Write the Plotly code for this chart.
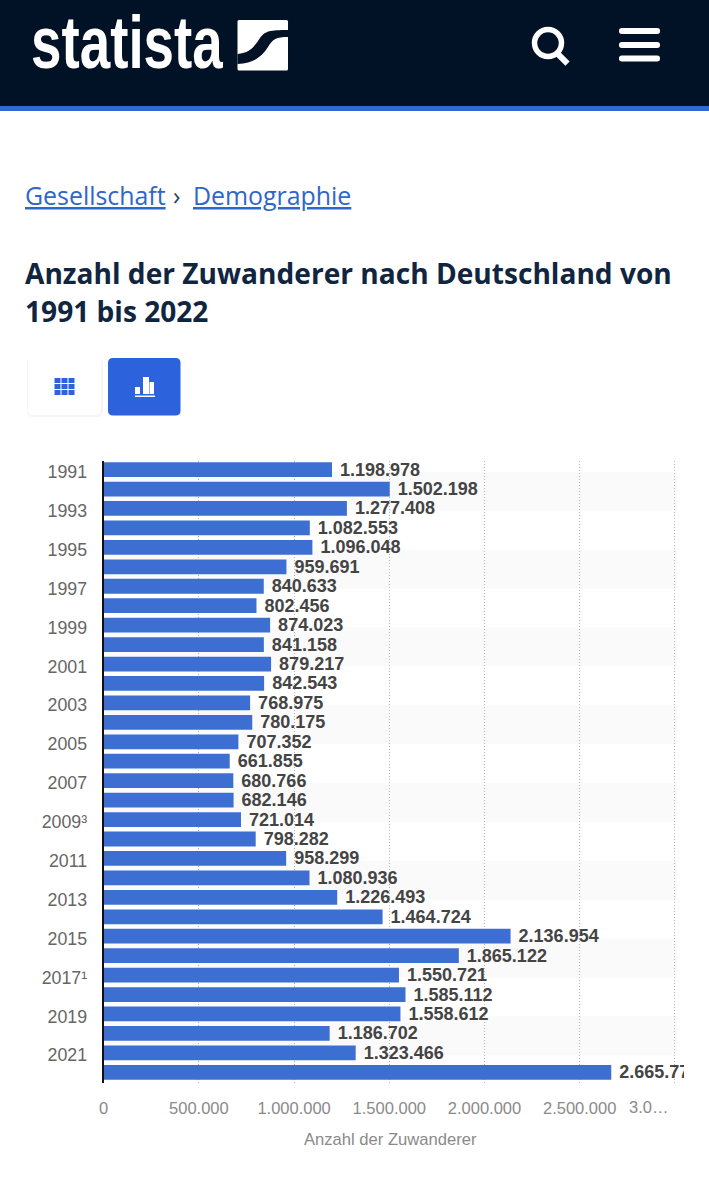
import plotly.graph_objects as go

W, H = 709, 1200
categories = [str(y) for y in range(1991, 2023)]
categories[18] = "2009³"
categories[26] = "2017¹"
values = [1198978, 1502198, 1277408, 1082553, 1096048, 959691, 840633, 802456,
          874023, 841158, 879217, 842543, 768975, 780175, 707352, 661855,
          680766, 682146, 721014, 798282, 958299, 1080936, 1226493, 1464724,
          2136954, 1865122, 1550721, 1585112, 1558612, 1186702, 1323466, 2665772]
labels = ["\u00a0" + f"{v:,}".replace(",", ".") for v in values]
tick_values = [0, 500000, 1000000, 1500000, 2000000, 2500000, 3000000]
tick_labels = ["0", "500.000", "1.000.000", "1.500.000", "2.000.000", "2.500.000", ""]
BLUE = "#3c6fd1"
NAVY = "#021226"


def X(p):
    return p / W


def Y(p):
    return 1 - p / H


def P(a, b):
    return f"{X(a):.5f},{Y(b):.5f}"


def rect(x0, y0, x1, y1, color, layer="above", line=None):
    return dict(type="rect", xref="paper", yref="paper", x0=X(x0), x1=X(x1), y0=Y(y0), y1=Y(y1),
                fillcolor=color, line=line or dict(width=0), layer=layer)


def svg(d, color=None, stroke=None, sw=0):
    return dict(type="path", xref="paper", yref="paper", path=d,
                fillcolor=color or "rgba(0,0,0,0)",
                line=dict(width=sw, color=stroke or "rgba(0,0,0,0)"), layer="above")


def rrect(x0, y0, x1, y1, r, color, line=None):
    d = (f"M{P(x0 + r, y0)} L{P(x1 - r, y0)} Q{P(x1, y0)} {P(x1, y0 + r)} "
         f"L{P(x1, y1 - r)} Q{P(x1, y1)} {P(x1 - r, y1)} L{P(x0 + r, y1)} "
         f"Q{P(x0, y1)} {P(x0, y1 - r)} L{P(x0, y0 + r)} Q{P(x0, y0)} {P(x0 + r, y0)} Z")
    s = svg(d, color)
    if line:
        s["line"] = line
    return s


shapes = [rect(0, 0, W, 106, NAVY), rect(0, 106, W, 111, "#3268d6")]
# logo mark: white square crossed by a navy swoosh
shapes.append(rrect(237.5, 20, 288, 70.5, 1.5, "#ffffff"))
shapes.append(svg(
    f"M{P(237.5, 54)} C{P(250, 53)} {P(254, 47)} {P(260, 38)} C{P(265, 31)} {P(270, 30)} {P(288, 30)} "
    f"L{P(288, 37)} C{P(276, 37)} {P(273, 39)} {P(268, 47)} C{P(262, 56)} {P(255, 63)} {P(237.5, 64)} Z",
    NAVY))
# search icon
shapes += [dict(type="circle", xref="paper", yref="paper", x0=X(534.5), x1=X(561.5), y0=Y(29.5), y1=Y(56.5),
                line=dict(color="white", width=5.5), fillcolor="rgba(0,0,0,0)", layer="above"),
           svg(f"M{P(557, 53)} L{P(567.5, 63.5)}", stroke="white", sw=6)]
# menu icon
for yy in (31, 45, 58.5):
    shapes.append(rrect(619, yy - 3, 660, yy + 3, 2.8, "#ffffff"))
# buttons
shapes += [rrect(27, 358, 103, 417, 6, "#f4f5f6"),
           rrect(28, 357, 101, 415, 5, "#ffffff"),
           rrect(108, 358, 180.5, 415.5, 5, "#2c62dc")]
for r in range(3):
    for c in range(3):
        shapes.append(rect(54.5 + c * 7, 378 + r * 6, 60.5 + c * 7, 383 + r * 6, "#2c62dc"))
shapes += [rect(135, 387, 140, 394, "#ffffff"), rect(143, 377, 149, 394, "#ffffff"),
           rect(149.5, 382, 154, 394, "#ffffff"), rect(135, 395.5, 155, 397, "#ffffff")]
# alternating plot bands (below the traces)
for i in range(0, 32, 4):
    shapes.append(dict(type="rect", xref="paper", yref="y", x0=X(104), x1=X(677),
                       y0=i + 0.12, y1=min(i + 2.12, 31.55), fillcolor="#fafafa",
                       line=dict(width=0), layer="below"))

annotations = [
    dict(text="<b>statista</b>", x=X(28.5), y=Y(42.5), xanchor="left", yanchor="middle", showarrow=False,
         font=dict(family="Liberation Sans", size=74, color="white")),
    dict(text="<u>Gesellschaft</u>", x=X(23), y=Y(195), xanchor="left", yanchor="middle", showarrow=False,
         font=dict(family="Open Sans", size=24.9, color="#2f66c9")),
    dict(text="›", x=X(171), y=Y(195), xanchor="left", yanchor="middle", showarrow=False,
         font=dict(family="Open Sans", size=24.9, color="#33415c")),
    dict(text="<u>Demographie</u>", x=X(190.5), y=Y(195), xanchor="left", yanchor="middle", showarrow=False,
         font=dict(family="Open Sans", size=24.9, color="#2f66c9")),
    dict(text="<b>Anzahl der Zuwanderer nach Deutschland von</b>", x=X(23), y=Y(273), xanchor="left",
         yanchor="middle", showarrow=False, font=dict(family="Open Sans", size=28.1, color="#0f2540")),
    dict(text="<b>1991 bis 2022</b>", x=X(23), y=Y(311), xanchor="left", yanchor="middle",
         showarrow=False, font=dict(family="Open Sans", size=28.1, color="#0f2540")),
    dict(text="3.0…", x=X(648), y=Y(1107), xanchor="center", yanchor="middle", showarrow=False,
         font=dict(family="Liberation Sans", size=16.5, color="#8a8a8a")),
    dict(text="Anzahl der Zuwanderer", x=X(390), y=Y(1139), xanchor="center", yanchor="middle", showarrow=False,
         font=dict(family="Liberation Sans", size=16.6, color="#8a8a8a")),
]
for a in annotations:
    a["xref"] = "paper"
    a["yref"] = "paper"

fig = go.Figure(go.Bar(
    y=list(range(32)), x=values, orientation="h", width=0.76,
    marker=dict(color=BLUE, line=dict(width=0)),
    text=labels, textposition="outside", cliponaxis=True, textangle=0, constraintext="none",
    textfont=dict(family="Liberation Sans", size=18, color="#444444", weight="bold"),
    hoverinfo="skip",
))
fig.update_layout(
    width=W, height=H, autosize=False, margin=dict(l=0, r=0, t=0, b=0),
    paper_bgcolor="white", plot_bgcolor="rgba(0,0,0,0)", showlegend=False,
    shapes=shapes, annotations=annotations,
    xaxis=dict(domain=[X(103.7), X(684)], range=[0, (684 - 103.7) / 95.2 * 500000],
               tickvals=tick_values, ticktext=tick_labels, tickangle=0, ticks="", side="bottom",
               tickfont=dict(family="Liberation Sans", size=16.5, color="#8a8a8a"),
               showgrid=True, gridcolor="#b4b4b4", griddash="1px,2px", gridwidth=1.2, zeroline=False,
               showline=False, anchor="y", automargin=False, ticklabelstandoff=13),
    yaxis=dict(domain=[Y(1083), Y(460.85)], range=[31.55, -0.45],
               tickvals=[i + 0.12 for i in range(0, 32, 2)], ticktext=categories[0::2], ticks="",
               tickfont=dict(family="Liberation Sans", size=17.8, color="#666666"),
               showgrid=False, zeroline=False, showline=True, linecolor="#111111", linewidth=2,
               anchor="x", automargin=False, ticklabelstandoff=11),
)
post = """
document.body.style.margin='0';
document.documentElement.style.overflow='hidden';
function squeezeLogo(){
  document.querySelectorAll('.annotation-text').forEach(function(t){
    if(t.textContent==='statista'){
      t.style.transformBox='fill-box';
      t.style.transformOrigin='left center';
      t.style.transform='scaleX(0.74)';
    }
  });
}
squeezeLogo();
setTimeout(squeezeLogo,50);
"""
fig.write_html("out.html", config=dict(displayModeBar=False), post_script=post)
